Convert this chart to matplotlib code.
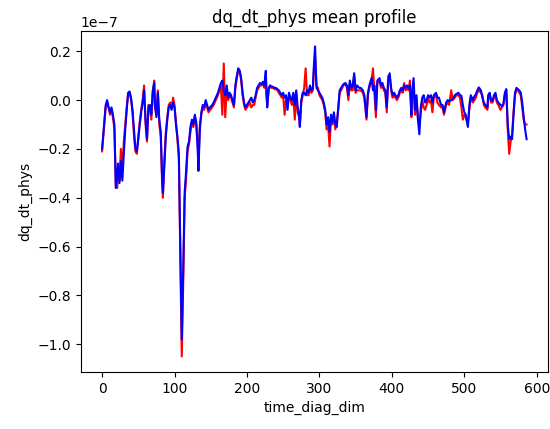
import numpy as np
import matplotlib
matplotlib.use("Agg")
import matplotlib.pyplot as plt

# time index positions
steps = [0, 3, 5, 7, 9, 11, 13, 15, 17, 19, 21, 22, 24, 26, 28, 30, 32, 34, 36, 38,
         40, 42, 44, 46, 48, 50, 52, 54, 56, 58, 60, 62, 64, 66, 68, 70, 72, 73, 75, 77,
         79, 81, 83, 84, 86, 88, 90, 92, 94, 96, 98, 100, 102, 104, 106, 108, 110, 112, 114, 116,
         118, 120, 122, 124, 126, 128, 130, 132, 133, 135, 137, 139, 141, 143, 145, 147, 149, 152, 154, 157,
         160, 162, 164, 166, 168, 170, 172, 174, 176, 178, 180, 182, 184, 186, 188, 190, 192, 194, 196, 198,
         200, 202, 204, 206, 208, 210, 212, 214, 216, 218, 220, 222, 224, 226, 227, 228, 230, 232, 234, 236,
         238, 240, 242, 244, 246, 248, 250, 252, 254, 256, 258, 260, 262, 264, 266, 268, 270, 272, 273, 275,
         277, 279, 281, 283, 285, 287, 289, 291, 292, 294, 296, 298, 300, 302, 304, 306, 308, 310, 312, 314,
         316, 318, 320, 322, 324, 326, 328, 330, 333, 336, 338, 340, 342, 344, 346, 348, 350, 352, 355, 357,
         360, 362, 365, 367, 369, 372, 374, 376, 378, 380, 383, 385, 387, 389, 391, 393, 395, 397, 399, 401,
         403, 405, 407, 409, 411, 413, 415, 417, 419, 421, 423, 425, 427, 428, 430, 432, 434, 436, 438, 440,
         442, 444, 446, 448, 450, 452, 454, 456, 458, 461, 463, 465, 468, 470, 472, 475, 477, 479, 482, 484,
         487, 489, 492, 494, 496, 498, 500, 502, 505, 507, 509, 512, 514, 516, 518, 520, 523, 525, 527, 529,
         532, 533, 535, 537, 539, 541, 543, 545, 547, 550, 552, 554, 556, 558, 560, 562, 564, 566, 568, 570,
         572, 574, 576, 578, 580, 582, 584, 586]

# blue series (units of 1e-7)
blue_vals = [-0.20, -0.09, -0.02, 0.00, -0.03, -0.05, -0.03, -0.06, -0.10, -0.36, -0.30, -0.26, -0.34, -0.25, -0.33, -0.22, -0.12, -0.04, 0.03, 0.035,
             0.01, -0.04, -0.12, -0.20, -0.21, -0.16, -0.10, -0.05, -0.01, 0.04, -0.08, -0.16, -0.03, -0.02, -0.06, 0.04, 0.07, -0.02, -0.07, 0.03,
             -0.08, -0.13, -0.33, -0.38, -0.27, -0.15, -0.08, -0.03, -0.02, -0.04, -0.01, -0.03, -0.10, -0.15, -0.22, -0.60, -0.98, -0.70, -0.38, -0.29,
             -0.19, -0.17, -0.11, -0.08, -0.10, -0.06, -0.09, -0.20, -0.29, -0.12, -0.05, -0.02, -0.03, 0.00, -0.02, -0.04, -0.03, -0.02, -0.01, 0.01,
             0.03, 0.05, 0.07, 0.08, 0.04, 0.02, 0.06, 0.01, 0.03, 0.02, 0.00, -0.02, 0.06, 0.10, 0.13, 0.12, 0.09, 0.03, -0.01, -0.03,
             -0.02, -0.01, 0.00, 0.01, -0.01, 0.00, 0.02, 0.05, 0.06, 0.07, 0.065, 0.075, 0.06, 0.12, 0.02, -0.03, 0.05, 0.06, 0.055, 0.055,
             0.05, 0.05, 0.045, 0.04, 0.03, 0.02, 0.03, 0.01, 0.02, -0.04, 0.03, 0.01, 0.00, 0.03, -0.02, 0.04, -0.03, -0.06, -0.11, 0.00,
             0.03, 0.03, 0.02, 0.04, 0.03, 0.06, 0.04, 0.05, 0.12, 0.22, 0.05, 0.04, 0.03, 0.02, 0.01, -0.01, -0.04, -0.10, -0.07, -0.13,
             -0.06, -0.09, -0.05, -0.10, -0.11, -0.03, 0.04, 0.05, 0.065, 0.07, 0.06, 0.02, 0.08, 0.05, 0.06, 0.11, 0.04, 0.06, 0.05, 0.05,
             0.04, 0.02, -0.07, 0.03, 0.06, 0.09, 0.04, 0.06, -0.04, 0.08, 0.09, 0.06, 0.07, 0.05, 0.04, -0.03, 0.08, 0.11, 0.05, 0.02,
             0.03, 0.02, 0.01, 0.02, 0.04, 0.05, 0.04, 0.06, 0.05, 0.06, 0.05, 0.06, -0.06, 0.03, 0.09, -0.04, 0.02, -0.08, -0.14, -0.03,
             0.01, 0.02, -0.01, 0.00, 0.02, 0.01, 0.02, -0.01, 0.02, 0.03, 0.01, 0.01, -0.02, -0.02, -0.05, -0.01, 0.00, -0.005, 0.00, 0.005,
             0.02, 0.025, 0.03, 0.02, 0.018, -0.02, -0.05, -0.06, -0.11, -0.02, 0.02, 0.00, 0.015, 0.024, 0.04, 0.052, 0.04, 0.01, -0.01, -0.02,
             -0.03, 0.02, 0.03, 0.00, -0.003, 0.02, 0.03, 0.00, -0.01, -0.02, -0.025, -0.015, 0.03, 0.045, -0.10, -0.16, -0.15, -0.16, -0.06, 0.03,
             0.05, 0.045, 0.04, 0.03, -0.01, -0.07, -0.12, -0.16]

# red series (units of 1e-7)
red_vals = [-0.21, -0.10, -0.03, -0.01, -0.03, -0.06, -0.04, -0.07, -0.12, -0.35, -0.36, -0.28, -0.33, -0.20, -0.30, -0.17, -0.10, -0.03, 0.03, 0.03,
            0.00, -0.05, -0.14, -0.21, -0.22, -0.15, -0.09, -0.04, 0.00, 0.06, -0.10, -0.17, -0.02, -0.03, -0.08, 0.03, 0.08, -0.03, -0.06, 0.04,
            -0.10, -0.15, -0.35, -0.40, -0.24, -0.13, -0.07, -0.02, -0.01, -0.03, 0.01, -0.02, -0.09, -0.16, -0.24, -0.65, -1.05, -0.75, -0.40, -0.32,
            -0.21, -0.18, -0.13, -0.09, -0.11, -0.07, -0.10, -0.18, -0.26, -0.10, -0.06, -0.03, -0.04, -0.01, -0.03, -0.05, -0.04, -0.03, -0.02, 0.00,
            0.02, 0.04, 0.06, -0.06, 0.15, -0.07, 0.04, 0.00, 0.02, 0.01, -0.01, -0.03, 0.05, 0.09, 0.12, 0.12, 0.08, 0.02, -0.02, -0.04,
            -0.03, -0.02, -0.01, -0.03, -0.02, -0.02, 0.01, 0.04, 0.05, 0.06, 0.06, 0.07, 0.05, 0.10, 0.03, -0.02, 0.04, 0.06, 0.05, 0.05,
            0.045, 0.045, 0.04, 0.03, 0.02, 0.01, 0.02, -0.06, 0.00, -0.03, 0.02, 0.00, -0.02, 0.02, -0.08, 0.03, -0.05, -0.07, -0.10, -0.01,
            0.02, 0.05, 0.13, 0.02, 0.02, 0.05, 0.03, 0.04, 0.10, 0.18, 0.06, 0.05, 0.02, 0.01, 0.00, -0.02, -0.05, -0.12, -0.10, -0.19,
            -0.08, -0.10, -0.06, -0.12, -0.09, -0.04, 0.03, 0.04, 0.06, 0.065, 0.05, 0.00, 0.07, 0.04, 0.04, 0.10, 0.03, 0.04, 0.04, 0.04,
            0.03, 0.01, -0.08, 0.02, 0.05, 0.08, 0.13, 0.03, -0.07, 0.07, 0.08, 0.05, 0.06, 0.04, 0.03, -0.05, 0.10, 0.10, 0.04, 0.01,
            0.02, 0.01, 0.00, 0.01, 0.03, 0.04, 0.03, 0.07, 0.04, 0.05, 0.04, 0.08, -0.07, 0.02, 0.04, -0.06, 0.01, -0.07, -0.10, -0.05,
            0.00, -0.03, -0.04, -0.02, 0.01, -0.01, 0.00, -0.05, 0.01, 0.02, -0.01, -0.02, -0.03, -0.03, -0.06, -0.02, -0.01, -0.02, 0.04, 0.00,
            0.01, 0.02, 0.02, 0.01, -0.03, -0.08, -0.06, -0.07, -0.10, -0.04, 0.01, -0.01, 0.00, 0.01, 0.03, 0.04, 0.03, 0.02, -0.02, -0.03,
            -0.04, 0.01, 0.02, -0.01, -0.01, 0.01, 0.02, -0.01, -0.02, -0.04, -0.03, -0.02, 0.02, 0.04, -0.12, -0.22, -0.17, -0.14, -0.05, 0.02,
            0.04, 0.04, 0.03, 0.02, -0.03, -0.08, -0.10, -0.10]

x = np.array(steps)
red = np.array(red_vals) * 1e-7
blue = np.array(blue_vals) * 1e-7

fig = plt.figure(figsize=(5.5, 4.29), dpi=100)
ax = fig.add_subplot(111)
fig.subplots_adjust(left=0.147, right=0.996, bottom=0.133, top=0.928)

ax.plot(x, red, color='red')
ax.plot(x, blue, color='blue')

ax.set_title('dq_dt_phys mean profile')
ax.set_xlabel('time_diag_dim')
ax.set_ylabel('dq_dt_phys')

plt.savefig("out.png", dpi=100)
